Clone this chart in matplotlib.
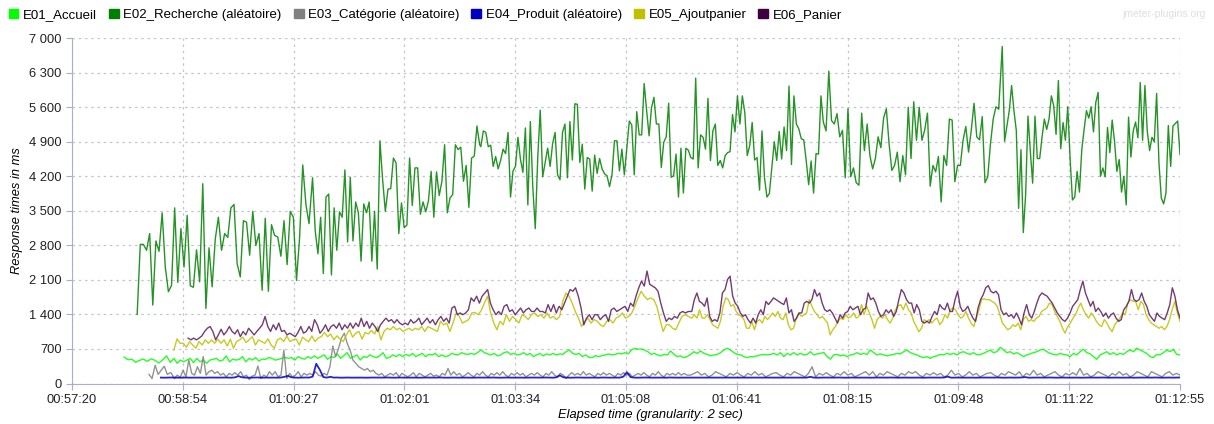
import numpy as np
import matplotlib
matplotlib.use("Agg")
import matplotlib.pyplot as plt
from matplotlib.patches import Patch

# series names and colours (legend order)
names = ["E01_Accueil", "E02_Recherche (aléatoire)", "E03_Catégorie (aléatoire)",
         "E04_Produit (aléatoire)", "E05_Ajoutpanier", "E06_Panier"]
colors = ["#00ff00", "#008000", "#808080", "#0000c0", "#c0c000", "#400040"]
line_colors = ["#00ff00", "#008000", "#808080", "#0000c0", "#c0c000", "#5a1a5a"]

x_ticks = ["00:57:20", "00:58:54", "01:00:27", "01:02:01", "01:03:34", "01:05:08",
           "01:06:41", "01:08:15", "01:09:48", "01:11:22", "01:12:55"]
y_ticks = [0, 700, 1400, 2100, 2800, 3500, 4200, 4900, 5600, 6300, 7000]

# ---- E02 Recherche, read in pieces ----
e02_a = [1400, 2820, 2820, 2700, 3040, 1590, 2890, 2680, 3460, 2360, 1860, 1990, 3560, 2050,
         3140, 2360, 3410, 1980, 1950, 2710, 2060, 4050, 1520, 2750, 1960, 2930, 3370, 2700,
         3040, 2960, 3560, 3630, 2430, 2160, 3300, 3270, 2600, 3490, 2800, 3040, 1890, 3350,
         1870, 3220, 3000, 2970, 2580, 3300, 2410, 3490, 3370, 2090, 2970, 4430, 3640, 3240]
e02_b = [4170, 3090, 2630, 3370, 2230, 3780, 3840, 2200, 3560, 2700, 3480, 3370, 4330, 2870,
         4180, 2890, 3680, 3460, 2480, 3640, 3460, 3680, 2480, 3490, 2320, 4920, 4130, 3490,
         3940, 3950, 4570, 4470, 3040, 3660, 3160, 3210, 4570, 3610, 4370, 4370, 3430, 3680,
         3480, 3700, 4300, 3370, 4290, 3810, 4100, 4840, 3460, 3760, 3830, 4840, 4740, 4790,
         4100, 4420, 3570, 4570, 4610, 5220, 4840]
e02_c = [4800, 5120, 5090, 4800, 4830, 4400, 4600, 4350, 4520, 4750, 4660, 5090, 3780, 4310,
         4400, 4990, 4550, 4280, 5180, 3620, 5310, 3980, 3140, 4580, 5540, 4190, 4480, 4770,
         4400, 4860, 5090, 4230, 4130, 5090, 5260, 4170, 5310, 4530, 5670, 5660, 4480, 4850,
         3940, 4580, 4550, 3900, 4630, 4260, 4560, 4350, 4250, 4210, 3990, 4230, 4920, 4920,
         4310, 4750, 4230, 4770, 5320, 5240, 4230, 5510, 5040, 5040, 6080, 5530, 5020]
e02_d = [5590, 5800, 5260, 5260, 4380, 4890, 5000, 5680, 4180, 4210, 4650, 3780, 4770, 3860,
         4770, 4730, 4580, 4550, 6190, 4370, 5040, 4990, 4750, 5780, 4520, 5120, 5260, 4420,
         4520, 4370, 4620, 4680, 4700, 5450, 5100, 5830, 5260, 5830, 5490, 4620, 4820, 5290,
         4530, 4580, 3920, 5120, 4180, 3780, 3850, 4380, 4900, 4520, 5110, 4550, 5200, 4720,
         6030, 4440, 5830, 5260, 5160, 4960, 4940, 4520, 4030, 4510, 3860, 4660, 4650, 5830]
e02_e = [5300, 5120, 6330, 5330, 5260, 5470, 5000, 5130, 4170, 5570, 4190, 4370, 4070, 4020,
         5480, 4720, 5260, 4620, 4350, 4560, 5000, 4780, 5380, 5570, 4860, 4320, 4420, 4690,
         4090, 4620, 4230, 5600, 4560, 5710, 4930, 5600, 4930, 5140, 5480, 4000, 4420, 4290,
         4600, 3680, 4620, 4420, 5360, 5340, 4090, 4420, 4420, 4930, 5210, 4690, 5140, 5680,
         5000, 4940, 5410, 4070, 4190, 4860, 5360, 5610, 5560]
e02_f = [6830, 4910, 5220, 5530, 6040, 5530, 5130, 3550, 4740, 3060, 3830, 5420, 4710, 4060,
         5420, 4560, 4560, 4990, 5360, 5150, 5360, 5830, 5630, 5050, 6140, 4760, 5290, 4930,
         5610, 4570, 3720, 3780, 4300, 3880, 4740, 5150, 5530, 5380, 5610, 5100, 5700, 5900,
         4200, 4370, 4190, 5190, 4680, 5340, 4910, 4300, 4540, 3880, 4200, 3620, 5400, 4590,
         5120, 5300, 4980, 6100, 4930, 6040, 5120, 4720, 4990, 4900, 5880, 4470, 3760, 3640,
         3860, 5230, 4400, 5220, 5270, 5320, 4640]

# ---- E01 Accueil ----
e01_a = [535, 480, 495, 430, 470, 495, 450, 500, 470, 415, 480, 560, 430]
e01_b = [510, 410, 475, 440, 475, 510, 420, 510, 440, 475, 410, 475, 490, 510, 455, 475, 560,
         440, 495, 475, 490, 545, 440, 510, 475, 525, 455, 495, 490, 525, 510, 475, 490, 510,
         530, 510, 525, 475, 545, 510, 495, 545, 510, 560, 510, 545, 580, 490, 545, 525, 600,
         510, 565, 625, 510, 545, 580, 475, 545, 530, 580, 545, 525, 565, 625, 510, 530, 580,
         545, 590, 545, 590, 560, 610, 545, 580, 610, 545, 590, 580, 610, 545, 580, 545, 560,
         610, 590, 580, 625, 600, 590, 610, 590, 630, 680, 625, 600, 580, 610, 560, 580, 625,
         645, 590, 610, 580, 590, 625, 580, 610, 545, 580, 610, 560, 600, 580, 610, 580, 600,
         590, 645, 680, 610, 590, 610, 545, 580, 530, 525, 565, 545, 565, 580, 600, 580, 590,
         610, 600, 625, 600, 680, 715, 695, 700, 680, 645, 590, 610, 580, 560, 590, 580, 660,
         590, 545, 560, 525, 545]
e01_c = [590, 645, 610, 660, 610, 590, 560, 580, 590, 625, 680, 715, 680, 625, 590, 580, 545,
         525, 545, 545, 560, 580, 590, 580, 590, 610, 580, 625, 545, 610, 580, 625, 580, 610,
         580, 590, 645, 580, 600, 610, 630, 545, 495, 580, 590, 560, 580, 545, 580, 590, 625,
         590, 610, 590, 680, 625, 580, 600, 580, 560, 580, 590, 610, 600, 645, 680, 625, 600,
         580, 545, 525, 545, 510, 545, 560, 590, 580, 610, 590, 610, 580, 625, 645, 610, 590,
         625, 580, 590, 610, 645, 680, 625, 645, 735, 680, 625, 645, 600, 625, 590, 545, 580,
         600, 625, 645, 680, 695, 645, 610, 590, 580, 610, 590, 580, 545, 610, 580, 645, 695,
         625, 600, 545, 490, 580, 610, 645, 590, 625, 580, 610, 590, 645, 680, 645, 715, 680,
         645, 610, 545, 525, 590, 580, 625, 680, 645, 695, 590, 580]

# ---- E03 Catégorie ----
e03_a = [185, 100, 370, 185, 270, 350, 185, 220]
e03_b = [205, 100, 170, 120, 270, 135, 475, 205, 170, 340, 205, 545, 170, 240, 270, 205, 240,
         170, 205, 135, 205, 170, 220, 170, 240, 135, 170, 80, 150, 170, 355, 100, 170, 135,
         240, 170, 240, 135, 170, 680, 100, 205, 135, 170, 240, 135, 205, 170, 205, 170, 240,
         170, 150, 205, 170, 340, 760, 545, 715, 920, 1020, 815, 680, 475, 410, 340, 305, 270,
         305, 240, 270, 205, 170, 205, 135, 170, 205, 170, 220, 135, 205, 170, 135, 170, 220,
         135, 205, 170, 135, 170, 205, 150, 170, 135, 205, 170, 305, 170, 240, 170, 205, 135,
         170, 220, 170, 135, 205, 170, 240, 170, 135, 205, 170, 220, 170, 240, 170, 135, 205,
         170, 220, 170, 205, 135, 170, 205, 170, 220, 170, 135, 205, 170, 240, 170, 135, 205,
         170, 100, 170, 220, 170, 205, 170, 240, 170, 205, 170, 135, 205, 170, 220, 170, 205,
         170, 135, 205, 170, 220, 170, 205, 135, 170, 205, 170, 220, 170, 135, 205, 170, 240,
         170, 135, 205, 170, 205, 170, 220, 170, 205, 170]
e03_c = [170, 205, 240, 170, 205, 135, 170, 240, 205, 170, 135, 205, 170, 220, 170, 135, 205,
         170, 240, 170, 205, 135, 170, 205, 220, 170, 135, 205, 170, 240, 205, 170, 135, 205,
         340, 135, 205, 170, 220, 170, 135, 205, 170, 240, 170, 205, 135, 170, 205, 240, 170,
         240, 135, 205, 170, 240, 205, 170, 135, 205, 170, 240, 205, 240, 170, 135, 205, 170,
         220, 170, 205, 135, 170, 270, 170, 205, 135, 170, 240, 170, 205, 135, 170, 205, 220,
         170, 135, 205, 170, 240, 205, 170, 240, 135, 205, 170, 270, 170, 205, 135, 170, 205,
         240, 170, 135, 205, 170, 220, 170, 305, 170, 205, 135, 170, 240, 205, 170, 135, 205,
         170, 240, 170, 205, 135, 170, 240, 205, 170, 135, 240, 205, 170, 135, 205, 240, 170,
         205, 170]

# ---- E04 Produit ----
e04_a = [120, 118, 120, 122, 120, 118, 120, 121, 119, 120, 122, 120, 118, 120, 121, 120, 119,
         120, 122, 120, 118, 125, 150, 125, 120, 118, 120, 122, 120, 119, 120, 121, 120, 118,
         122, 135, 155, 125, 120, 118, 120, 122, 120, 140, 400, 280, 130, 120, 135, 120, 122,
         118, 120, 121, 119, 120, 122, 120, 118, 120, 121, 120, 119, 120, 122, 120, 118, 120,
         121, 119, 120, 122, 120, 118, 120, 121, 120, 119, 120, 122, 120, 118, 120, 121, 119,
         120, 122, 120, 118, 120, 121, 120, 119, 120, 122, 120, 118, 120, 121, 119, 120, 122,
         120, 118, 120, 121, 120, 119, 120, 122, 120, 118, 125, 165, 125, 120, 118, 120, 122,
         120, 119, 120, 121, 120, 118, 122, 120, 119, 120, 121, 120, 140, 230, 130, 120, 118,
         120, 122, 120, 119, 120, 121, 120, 118, 122, 120, 119, 120, 121, 120]
e04_b = [120, 121, 119, 120, 122, 120, 118, 120, 121, 120, 119, 120, 122, 120, 118, 120, 121,
         119, 120, 122, 120, 118, 120, 121, 120, 119, 120, 122, 120, 118, 120, 121, 119, 120,
         135, 120, 118, 120, 121, 120, 119, 120, 122, 120, 118, 120, 121, 119, 120, 122, 120,
         118, 120, 121, 120, 119, 120, 122, 120, 118, 120, 121, 119, 120, 122, 120, 118, 120,
         121, 120, 119, 120, 122, 140, 118, 120, 121, 119, 120, 122, 120, 118, 120, 121, 120,
         119, 120, 122, 120, 118, 120, 121, 119, 120, 122, 130, 118, 120, 121, 120, 119, 120,
         122, 120, 118, 120, 121, 119, 120, 122, 120, 118, 120, 121, 120, 119, 120, 122, 120,
         118, 120, 121, 119, 120, 122, 120, 118, 120, 121, 120, 119, 120, 122, 120, 118, 120,
         121, 119, 120, 122]

# ---- E05 Ajoutpanier ----
e05_a = [680, 905, 815, 815, 735, 850, 780, 715, 850, 780, 885, 815, 885, 815, 900, 815, 885,
         760, 900, 715, 850, 885, 940, 830, 885, 950, 780, 885, 850, 815, 905, 780, 715, 885,
         920, 850, 965, 850, 885, 900, 780, 940, 885, 850, 965, 850, 920, 950, 1035, 950, 1005,
         885, 965, 900, 850, 985, 1090, 940, 1020, 1055, 900, 1035, 1005, 1075, 1005, 1155,
         885, 1055, 1120, 1090, 1155, 1090, 1120, 1055, 1090, 1120, 1075, 1120, 1090, 1155,
         1055, 1155, 1120, 1090, 1055, 1260, 1190, 1225, 1055, 1225, 1430, 1360, 1225, 1260,
         1295, 1430, 1440, 1395, 1480, 1630, 1770, 1430, 1225, 1090, 1260, 1190, 1395, 1260,
         1360, 1295, 1225, 1395, 1360, 1295, 1395, 1430, 1360, 1395, 1325, 1430, 1325, 1360,
         1295, 1360, 1665, 1835, 1770, 1630, 1460, 1325, 1155, 1260, 1325, 1225, 1295, 1260,
         1190, 1155, 1260, 1295, 1225, 1325, 1360, 1430, 1325, 1360, 1430, 1565, 1735, 1870,
         1770, 1700, 1735, 1700, 1565, 1295, 1055, 1190, 1190, 1120, 1090, 1225, 1360, 1395,
         1360]
e05_b = [1325, 1395, 1325, 1495, 1325, 1325, 1395, 1295, 1190, 1155, 1120, 1260, 1565, 1735,
         1700, 1565, 1600, 1460, 1395, 1360, 1295, 1120, 1120, 1260, 1090, 1260, 1295, 1225,
         1360, 1295, 1360, 1430, 1360, 1460, 1325, 1295, 1430, 1190, 1090, 1120, 1325, 1430,
         1360, 1395, 1430, 1700, 1565, 1460, 1395, 1325, 1360, 1295, 1225, 985, 1090, 1155,
         1260, 1325, 1295, 1395, 1325, 1360, 1430, 1325, 1360, 1600, 1395, 1565, 1430, 1295,
         1120, 1295, 1360, 1325, 1395, 1295, 1225, 1325, 1495, 1565, 1600, 1495, 1630, 1495,
         1430, 1260, 1155, 1050, 1120, 1295, 1260, 1295, 1225, 1295, 1325, 1190, 1260, 1395,
         1325, 1495, 1530, 1495, 1395, 1325, 1360, 1460, 1325, 1225, 1155, 1325, 1495, 1700,
         1715, 1700, 1700, 1665, 1630, 1565, 1395, 1225, 1155, 1090, 1120, 1190, 1155, 1225,
         1090, 1295, 1360, 1260, 1295, 1260, 1325, 1360, 1460, 1495, 1530, 1630, 1600, 1460,
         1360, 1260, 1120, 1020, 1155, 1225, 1325, 1395, 1530, 1630, 1495, 1395, 1325, 1430,
         1360, 1260, 1190, 1155, 1295, 1225, 1120, 1050, 1190, 1260, 1325, 1430, 1395, 1630,
         1700, 1665, 1665, 1495, 1665, 1600, 1395, 1295, 1225, 1190, 1155, 1120, 1155, 1090,
         1155, 1295, 1495, 1665, 1430, 1260]

# ---- E06 Panier ----
e06_a = [920, 885, 920, 885, 920, 965, 1055, 1120, 1155, 1055, 885, 985, 1100, 985, 1055,
         1155, 1055, 1005, 1090, 950, 1055, 985, 1120, 1055, 985, 1055, 1120, 1190, 1360, 1155,
         1055, 1190, 1090, 1225, 1055, 1075, 985, 1020, 985, 950, 1035, 1155, 1020, 1055, 1155,
         1055, 1295, 1190, 1020, 1090, 1190, 1055, 1155, 1190, 1120, 1225, 1090, 1190, 1120,
         1225, 1120, 1225, 1155, 1325, 1155, 1260, 1120, 1225, 1155, 1055, 1190, 1260, 1325,
         1260, 1295, 1225, 1295, 1225, 1190, 1225, 1190, 1295, 1225, 1260, 1325, 1190, 1260,
         1325, 1225, 1295, 1190, 1295, 1360, 1260, 1325, 1225, 1530, 1565, 1395, 1430, 1395,
         1430, 1495, 1735, 1665, 1770, 1630, 1770, 1835, 1905, 1630, 1495, 1395, 1460, 1395,
         1565, 1600, 1460, 1495, 1395, 1460, 1530, 1430, 1495, 1530, 1460, 1460, 1530, 1460,
         1460, 1430, 1600, 1460, 1600, 1430, 1565, 1495, 1630, 1770, 1905, 1870, 1940, 1770,
         1530, 1190, 1325, 1395, 1295, 1395, 1395, 1295, 1360, 1395, 1260, 1495, 1530, 1460,
         1495, 1530, 1565, 1460, 1630, 1565, 1770, 1940, 2075, 1975, 2280, 2010, 1975, 1940,
         1870, 1630, 1430, 1260, 1325, 1295, 1360, 1325, 1430, 1460, 1430, 1460]
e06_b = [1460, 1700, 1835, 1665, 1630, 1565, 1735, 1360, 1260, 1295, 1260, 1430, 1835, 1905,
         2110, 2175, 1770, 1630, 1565, 1430, 1360, 1395, 1295, 1225, 1325, 1225, 1395, 1495,
         1395, 1665, 1600, 1665, 1735, 1700, 1665, 1630, 1600, 1735, 1430, 1495, 1260, 1325,
         1430, 1430, 1630, 1665, 1630, 1700, 1905, 1770, 1835, 1630, 1495, 1460, 1495, 1430,
         1325, 1225, 1395, 1325, 1430, 1460, 1565, 1495, 1530, 1565, 1395, 1495, 1530, 1835,
         1700, 1735, 1630, 1460, 1360, 1395, 1495, 1430, 1495, 1360, 1460, 1700, 1905, 1835,
         1700, 1630, 1630, 1430, 1600, 1495, 1260, 1225, 1260, 1225, 1360, 1460, 1395, 1600,
         1530, 1495, 1630, 1460, 1460, 1700, 1870, 1565, 1460, 1495, 1565, 1430, 1325, 1260,
         1530, 1700, 1800, 1940, 1985, 1870, 1835, 1870, 1800, 1495, 1395, 1430, 1360, 1395,
         1325, 1430, 1325, 1190, 1430, 1600, 1395, 1325, 1460, 1630, 1770, 1835, 1800, 1770,
         1700, 1630, 1530, 1430, 1360, 1295, 1260, 1325, 1430, 1565, 1630, 1700, 1905, 2075,
         1835, 1700, 1565, 1665, 1460, 1530, 1460, 1360, 1430, 1325, 1395, 1430, 1325, 1260,
         1295, 1495, 1565, 1665, 1905, 1700, 1665, 1700, 1835, 1665, 1565, 1395, 1325, 1260,
         1430, 1360, 1325, 1295, 1430, 1600, 1940, 1770, 1495, 1325]

pieces = {
    0: [("00:58:04", "00:58:43", e01_a), ("00:58:46", "01:05:59", e01_b), ("01:06:02", "01:12:55", e01_c)],
    1: [("00:58:15", "01:00:40", e02_a), ("01:00:43", "01:03:04", e02_b), ("01:03:05", "01:05:27", e02_c),
        ("01:05:29", "01:07:52", e02_d), ("01:07:54", "01:10:22", e02_e), ("01:10:25", "01:12:55", e02_f)],
    2: [("00:58:25", "00:58:43", e03_a), ("00:58:44", "01:05:59", e03_b), ("01:06:02", "01:12:55", e03_c)],
    3: [("00:58:35", "01:05:59", e04_a), ("01:06:02", "01:12:55", e04_b)],
    4: [("00:58:46", "01:06:00", e05_a), ("01:06:03", "01:12:55", e05_b)],
    5: [("00:58:58", "01:06:00", e06_a), ("01:06:03", "01:12:55", e06_b)],
}


def secs(s):
    h, m, sec = s.split(":")
    return int(h) * 3600 + int(m) * 60 + int(sec)


def build(parts):
    tt, vv = [], []
    for start, end, vals in parts:
        tt.append(np.linspace(secs(start), secs(end), len(vals)))
        vv.append(np.array(vals, dtype=float))
    return np.concatenate(tt), np.concatenate(vv)


fig = plt.figure(figsize=(12.14, 4.24), dpi=100)
ax = fig.add_axes([0.0593, 0.0955, 0.9127, 0.8145])
font = "Liberation Sans"
fs = 9.3

widths = [1.0, 1.0, 1.0, 1.3, 1.0, 1.0]
for i in range(6):
    t, v = build(pieces[i])
    ax.plot(t, v, color=line_colors[i], lw=widths[i], alpha=0.85, zorder=3 + i)

t0 = secs(x_ticks[0])
t1 = t0 + 935
ax.set_xlim(t0, t1)
ax.set_ylim(0, 7000)
ax.set_xticks(np.linspace(t0, t1, len(x_ticks)))
ax.set_xticklabels(x_ticks, fontfamily=font, fontsize=fs)
ax.set_yticks(y_ticks)
ax.set_yticklabels([f"{v:,}".replace(",", " ") for v in y_ticks], fontfamily=font, fontsize=fs)

ax.grid(True, color="#c4c4d4", linestyle=(0, (2, 3)), linewidth=0.9)
ax.set_axisbelow(True)
for side in ["top", "right"]:
    ax.spines[side].set_visible(False)
for side in ["left", "bottom"]:
    ax.spines[side].set_color("#a8b0c8")
ax.tick_params(colors="#a8b0c8", labelcolor="#222222", length=4, width=0.8)

ax.set_ylabel("Response times in ms", fontstyle="italic", fontfamily=font, fontsize=fs)
ax.set_xlabel("Elapsed time (granularity: 2 sec)", fontstyle="italic", fontfamily=font, fontsize=fs)
ax.xaxis.set_label_coords(0.522, -0.075)
ax.yaxis.set_label_coords(-0.044, 0.5)

handles = [Patch(facecolor=c, edgecolor=c) for c in colors]
fig.legend(handles, names, loc="upper left", bbox_to_anchor=(0.0, 1.0), ncol=6, frameon=False,
           prop={"family": font, "size": 9.5}, handlelength=0.75, handleheight=0.75,
           handletextpad=0.35, columnspacing=0.9, borderaxespad=0.25)

fig.text(0.993, 0.968, "jmeter-plugins.org", ha="right", va="center", color="#dcdfe6",
         fontsize=7.5, fontfamily=font)

fig.savefig("out.png", dpi=100)
